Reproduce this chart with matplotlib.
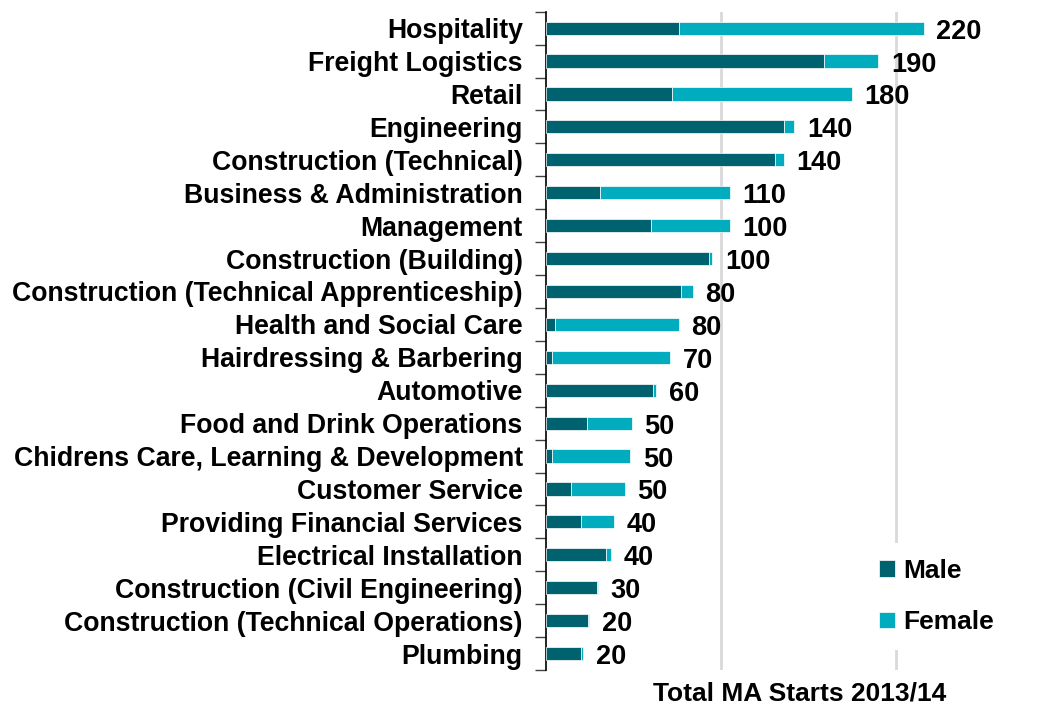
import matplotlib
matplotlib.use("Agg")
import matplotlib.pyplot as plt
import numpy as np

categories = [
    "Hospitality", "Freight Logistics", "Retail", "Engineering",
    "Construction (Technical)", "Business & Administration", "Management",
    "Construction (Building)", "Construction (Technical Apprenticeship)",
    "Health and Social Care", "Hairdressing & Barbering", "Automotive",
    "Food and Drink Operations", "Chidrens Care, Learning & Development",
    "Customer Service", "Providing Financial Services", "Electrical Installation",
    "Construction (Civil Engineering)", "Construction (Technical Operations)", "Plumbing",
]
male = [76, 159, 72, 136, 131, 31, 60, 93, 77, 5, 3, 61, 23, 3, 14, 20, 34, 29, 24, 20]
female = [140, 31, 103, 6, 5, 74, 45, 2, 7, 71, 68, 2, 26, 45, 31, 19, 3, 0.3, 0.5, 1]
total_labels = ["220", "190", "180", "140", "140", "110", "100", "100", "80", "80",
                "70", "60", "50", "50", "50", "40", "40", "30", "20", "20"]
series_names = ["Male", "Female"]
xlabel = "Total MA Starts 2013/14"

MALE_C = "#00616F"
FEMALE_C = "#00ACBD"

plt.rcParams['font.family'] = ['Liberation Sans', 'DejaVu Sans']

fig = plt.figure(figsize=(10.59, 7.09), dpi=100)
ax = fig.add_axes([0.5159, 0.055, 0.4784, 0.9285])

y = np.arange(len(categories))
male_a = np.array(male, dtype=float)
female_a = np.array(female, dtype=float)
h = 0.4
ax.barh(y, male_a, height=h, color=MALE_C, edgecolor="white", linewidth=0.5,
        label=series_names[0], zorder=3)
ax.barh(y, female_a, left=male_a, height=h, color=FEMALE_C, edgecolor="white",
        linewidth=0.5, label=series_names[1], zorder=3)

for yi, tot, lab in zip(y, male_a + female_a, total_labels):
    ax.annotate(lab, xy=(tot, yi), xytext=(9, -2.5), textcoords="offset points",
                ha="left", va="center", fontsize=19.5, fontweight="bold",
                color="black", zorder=4)

ax.set_xlim(0, 290)
ax.set_ylim(len(categories) - 0.5, -0.5)
ax.set_xticks([100, 200])
ax.tick_params(axis="x", length=0, labelbottom=False)
ax.grid(axis="x", color="#d9d9d9", linewidth=2, zorder=0)

ax.set_yticks(y)
ax.set_yticklabels(categories, fontsize=19.2, fontweight="bold")
ax.tick_params(axis="y", length=0, pad=17)
ax.set_yticks(np.arange(-0.5, len(categories), 1), minor=True)
ax.tick_params(axis="y", which="minor", length=8, width=1, color="#404040", direction="out")

for s in ["top", "right", "bottom"]:
    ax.spines[s].set_visible(False)
ax.spines["left"].set_linewidth(1.2)
ax.spines["left"].set_color("black")

ax.set_xlabel(xlabel, fontsize=19, fontweight="bold", labelpad=8)

leg = ax.legend(loc="lower right", bbox_to_anchor=(0.94, 0.01), frameon=True,
                framealpha=1, edgecolor="none", facecolor="white",
                prop={"size": 19, "weight": "bold"}, handlelength=0.6,
                handleheight=0.6, handletextpad=0.3, labelspacing=1.05,
                borderpad=0.6)

fig.savefig("out.png", dpi=100)
